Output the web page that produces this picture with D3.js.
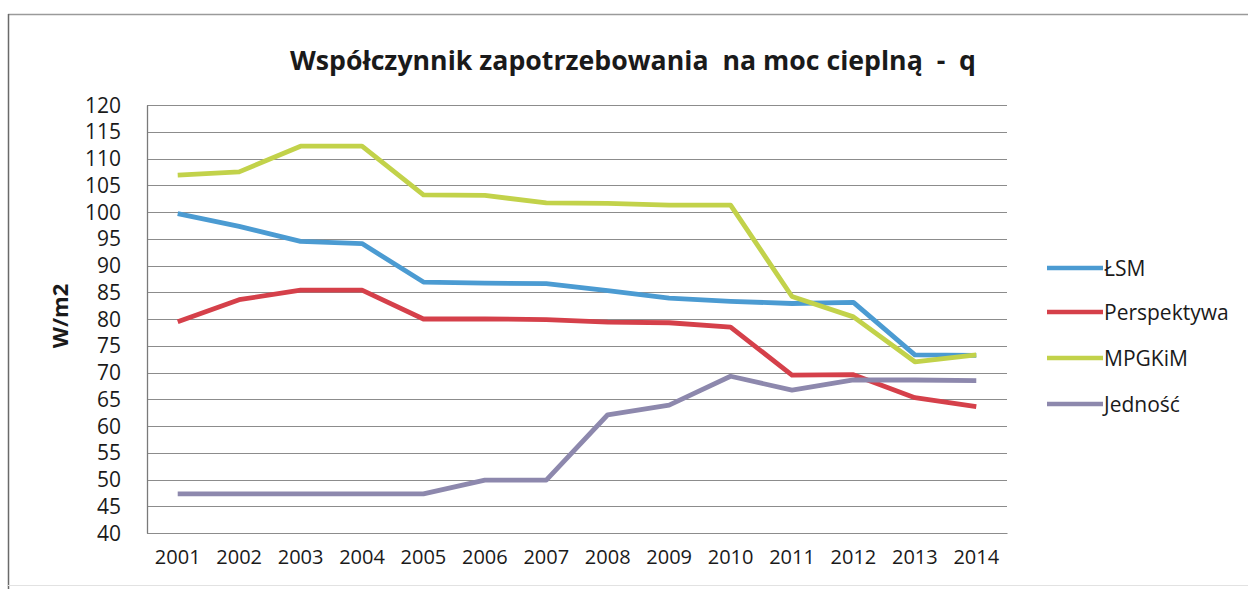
<!DOCTYPE html>
<html>
<head>
<meta charset="utf-8">
<script src="https://cdn.jsdelivr.net/npm/d3@7"></script>
<style>
  html, body { margin: 0; padding: 0; background: #fff; }
  svg { display: block; }
  text { font-family: "Open Sans", "Liberation Sans", sans-serif; fill: #1a1a1a; }
</style>
</head>
<body>
<svg id="chart" width="1248" height="589"></svg>
<script>
// Heat demand coefficient q (W/m2) per housing cooperative, 2001–2014
const years = ["2001","2002","2003","2004","2005","2006","2007","2008","2009","2010","2011","2012","2013","2014"];
const yTicks = [40,45,50,55,60,65,70,75,80,85,90,95,100,105,110,115,120];

const lsm         = [99.7, 97.3, 94.5, 94.1, 86.9, 86.7, 86.6, 85.3, 83.9, 83.3, 82.9, 83.1, 73.3, 73.2];
const perspektywa = [79.5, 83.6, 85.4, 85.4, 80.0, 80.0, 79.9, 79.4, 79.3, 78.5, 69.5, 69.6, 65.3, 63.6];
const mpgkim      = [106.9, 107.5, 112.3, 112.3, 103.2, 103.1, 101.7, 101.6, 101.3, 101.3, 84.2, 80.4, 72.0, 73.3];
const jednosc     = [47.3, 47.3, 47.3, 47.3, 47.3, 49.9, 49.9, 62.1, 63.9, 69.3, 66.7, 68.6, 68.6, 68.5];

const seriesNames  = ["ŁSM", "Perspektywa", "MPGKiM", "Jedność"];
const seriesValues = [lsm, perspektywa, mpgkim, jednosc];
const seriesColors = ["#4b9bd2", "#d5404a", "#c2d24a", "#8d88ad"];

const svg = d3.select("#chart");

// outer frame (top and left edges visible)
svg.append("line").attr("x1", 8).attr("x2", 1248).attr("y1", 14.5).attr("y2", 14.5)
  .attr("stroke", "#9a9a9a").attr("stroke-width", 1.5);
svg.append("line").attr("x1", 8.5).attr("x2", 8.5).attr("y1", 14).attr("y2", 589)
  .attr("stroke", "#6a6a6a").attr("stroke-width", 1.5);
svg.append("line").attr("x1", 8).attr("x2", 1248).attr("y1", 585.5).attr("y2", 585.5)
  .attr("stroke", "#e2e2e2").attr("stroke-width", 1);

const plot = { left: 147, right: 1007, top: 105, bottom: 533 };

const x = d3.scaleBand().domain(years).range([plot.left, plot.right]);
const y = d3.scaleLinear().domain([40, 120]).range([plot.bottom, plot.top]);

// title (double spaces kept as written)
svg.append("text")
  .attr("x", 290).attr("y", 70)
  .attr("textLength", 686).attr("lengthAdjust", "spacingAndGlyphs")
  .style("font-size", "27px").style("font-weight", "700")
  .style("white-space", "pre")
  .text("Współczynnik zapotrzebowania  na moc cieplną  -  q");

// horizontal gridlines
svg.append("g")
  .selectAll("line")
  .data(yTicks)
  .join("line")
  .attr("x1", plot.left).attr("x2", plot.right)
  .attr("y1", d => Math.round(y(d)) + 0.5).attr("y2", d => Math.round(y(d)) + 0.5)
  .attr("stroke", "#8c8c8c").attr("stroke-width", 1.2);

// y axis
const yAxis = svg.append("g")
  .attr("transform", `translate(${plot.left},0)`)
  .call(d3.axisLeft(y).tickValues(yTicks).tickSize(0).tickPadding(26));
yAxis.select(".domain").attr("stroke", "#7a7a7a").attr("stroke-width", 1.3);
yAxis.selectAll("text").style("font-size", "21px").attr("fill", "#1a1a1a").attr("dy", "0.34em");

// x axis
const xAxis = svg.append("g")
  .attr("transform", `translate(0,${plot.bottom})`)
  .call(d3.axisBottom(x).tickSize(0).tickPadding(17));
xAxis.select(".domain").attr("stroke", "#8c8c8c").attr("stroke-width", 1.2);
xAxis.selectAll("text").style("font-size", "20px").attr("fill", "#1a1a1a");

// y axis title
svg.append("text")
  .attr("transform", "translate(68,316) rotate(-90)")
  .attr("text-anchor", "middle")
  .style("font-size", "22px").style("font-weight", "700")
  .text("W/m2");

// series lines
const line = d3.line()
  .x((d, i) => x(years[i]) + x.bandwidth() / 2)
  .y(d => y(d));

svg.append("g")
  .selectAll("path")
  .data(seriesValues)
  .join("path")
  .attr("d", d => line(d))
  .attr("fill", "none")
  .attr("stroke", (d, i) => seriesColors[i])
  .attr("stroke-width", 4.8)
  .attr("stroke-linejoin", "round");

// legend
const legend = svg.append("g");
const legendY = [268, 312, 358, 404];
seriesNames.forEach((name, i) => {
  legend.append("line")
    .attr("x1", 1047).attr("x2", 1103)
    .attr("y1", legendY[i]).attr("y2", legendY[i])
    .attr("stroke", seriesColors[i]).attr("stroke-width", 4.5);
  legend.append("text")
    .attr("x", 1104).attr("y", legendY[i]).attr("dy", "0.36em")
    .style("font-size", "21px")
    .text(name);
});
</script>
</body>
</html>
